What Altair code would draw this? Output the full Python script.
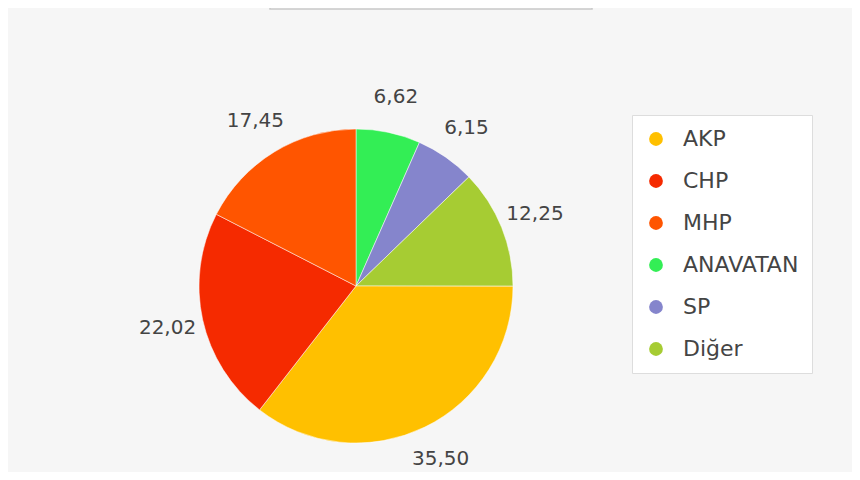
import pandas as pd
import altair as alt

# party shares (pie drawn clockwise from 12 o'clock in this order)
parties = ["ANAVATAN", "SP", "Diğer", "AKP", "CHP", "MHP"]
shares = [6.62, 6.15, 12.25, 35.50, 22.02, 17.45]

legend_order = ["AKP", "CHP", "MHP", "ANAVATAN", "SP", "Diğer"]
legend_colors = ["#FFC000", "#F52A00", "#FF5500", "#33EE55", "#8585CC", "#A6CC33"]

df = pd.DataFrame({"Parti": parties, "Oran": shares})
df["Sira"] = range(len(df))
df["Etiket"] = [f"{v:.2f}".replace(".", ",") for v in shares]

cx, cy = 348, 278

base = alt.Chart(df).encode(
    theta=alt.Theta("Oran:Q", stack=True),
    order=alt.Order("Sira:Q"),
    x=alt.value(cx),
    y=alt.value(cy),
)

pie = base.mark_arc(outerRadius=157, stroke="#ffffff", strokeWidth=0.5).encode(
    color=alt.Color(
        "Parti:N",
        scale=alt.Scale(domain=legend_order, range=legend_colors),
        sort=legend_order,
        legend=alt.Legend(
            title=None,
            orient="none",
            legendX=624,
            legendY=107,
            symbolType="circle",
            symbolSize=190,
            symbolStrokeWidth=0,
            labelFontSize=22,
            labelColor="#444444",
            labelFont="DejaVu Sans",
            labelOffset=16,
            rowPadding=20,
            padding=13,
            fillColor="#ffffff",
            strokeColor="#dddddd",
            cornerRadius=0,
        ),
    )
)

labels = base.mark_text(
    radius=193, fontSize=20, color="#444444", font="DejaVu Sans"
).encode(text="Etiket:N")

# top frame (partially visible box)
frame = alt.Chart(pd.DataFrame({"a": [0]})).mark_rect(
    fill="#ffffff", stroke="#c8c8c8", strokeWidth=1.5
).encode(
    x=alt.value(262), x2=alt.value(584), y=alt.value(-20), y2=alt.value(1)
)

chart = (
    alt.layer(frame, pie, labels)
    .properties(
        width=844,
        height=464,
        background="#f6f6f6",
        padding=0,
        autosize=alt.AutoSizeParams(type="none"),
    )
    .configure_view(stroke=None)
)

chart.save("out.html", embed_options={"renderer": "svg", "actions": False})
